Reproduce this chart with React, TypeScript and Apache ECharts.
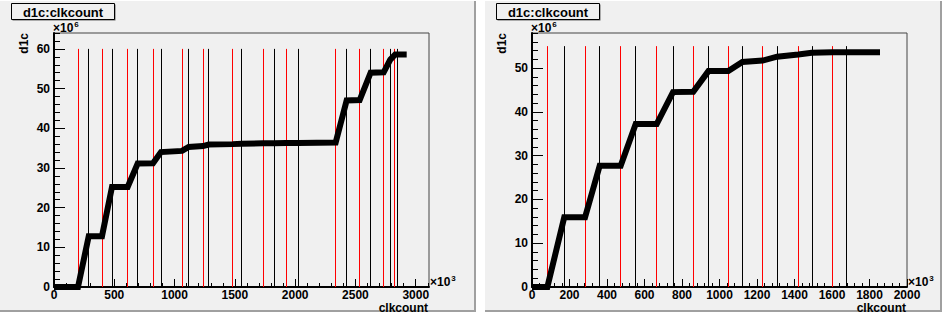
import { useEffect, useRef } from "react";
import * as echarts from "echarts";

const FONT = "'Liberation Sans', Arial, Helvetica, sans-serif";

// ---------- left pad (x in 10^3 clkcount, y in 10^6) ----------
const leftCurveX = [0, 199, 288, 398, 481, 611, 694, 821, 887, 1062, 1117, 1236, 1283, 1482, 1557, 1733, 1824, 1922, 2026, 2336, 2427, 2535, 2626, 2734, 2789, 2830, 2925];
const leftCurveY = [0, 0, 12.8, 12.8, 25.2, 25.2, 31.1, 31.2, 34.0, 34.3, 35.3, 35.5, 35.9, 36.0, 36.1, 36.2, 36.2, 36.3, 36.3, 36.4, 47.0, 47.1, 54.0, 54.1, 57.3, 58.6, 58.6];
const leftRedLines = [199, 398, 611, 821, 1062, 1236, 1482, 1733, 1922, 2336, 2535, 2734, 2822];
const leftBlackLines = [288, 481, 694, 887, 1117, 1283, 1557, 1824, 2026, 2427, 2626, 2789, 2847];
const leftLineTop = 60;
const leftXMajor = [0, 500, 1000, 1500, 2000, 2500, 3000];
const leftYMajor = [0, 10, 20, 30, 40, 50, 60];
const leftXMax = 3110;
const leftYMax = 64;

// ---------- right pad ----------
const rightCurveX = [0, 82, 172, 283, 361, 473, 553, 665, 752, 860, 941, 1047, 1122, 1230, 1307, 1420, 1492, 1602, 1676, 1856];
const rightCurveY = [0, 0, 15.9, 15.9, 27.7, 27.7, 37.2, 37.2, 44.5, 44.6, 49.3, 49.3, 51.4, 51.7, 52.6, 53.1, 53.5, 53.6, 53.6, 53.6];
const rightRedLines = [82, 283, 473, 665, 860, 1047, 1230, 1420, 1602];
const rightBlackLines = [172, 361, 553, 752, 941, 1122, 1307, 1492, 1676];
const rightLineTop = 55;
const rightXMajor = [0, 200, 400, 600, 800, 1000, 1200, 1400, 1600, 1800, 2000];
const rightYMajor = [0, 10, 20, 30, 40, 50];
const rightXMax = 2000;
const rightYMax = 58;

const leftXMinorStep = 100;
const rightXMinorStep = 40;
const yMinorStep = 2;

function minorTicks(max: number, step: number, majors: number[]) {
  const out: number[] = [];
  for (let i = 1; i * step <= max + 1e-9; i++) {
    const v = Math.round(i * step * 1000) / 1000;
    if (!majors.includes(v)) out.push(v);
  }
  return out;
}

const labelStyle = {
  color: "#000",
  fontFamily: FONT,
  fontWeight: "bold" as const,
  fontSize: 12,
  formatter: (v: number) => String(v),
};

function xAxes(grid: number, max: number, major: number[], minor: number[]) {
  return [
    {
      type: "value", gridIndex: grid, min: 0, max, position: "bottom",
      axisLine: { show: true, onZero: false, lineStyle: { color: "#000", width: 2 } },
      axisTick: { show: true, inside: true, length: 8, customValues: major, lineStyle: { color: "#000", width: 1 } },
      axisLabel: { show: true, customValues: major, margin: 2, ...labelStyle },
      splitLine: { show: false },
    },
    {
      type: "value", gridIndex: grid, min: 0, max, position: "bottom",
      axisLine: { show: false, onZero: false },
      axisTick: { show: true, inside: true, length: 4, customValues: minor, lineStyle: { color: "#000", width: 1 } },
      axisLabel: { show: false },
      splitLine: { show: false },
    },
  ];
}

function yAxes(grid: number, max: number, major: number[], minor: number[]) {
  return [
    {
      type: "value", gridIndex: grid, min: 0, max, position: "left",
      axisLine: { show: true, onZero: false, lineStyle: { color: "#000", width: 2 } },
      axisTick: { show: true, inside: true, length: 11, customValues: major, lineStyle: { color: "#000", width: 1 } },
      axisLabel: { show: true, customValues: major, margin: 4, ...labelStyle },
      splitLine: { show: false },
    },
    {
      type: "value", gridIndex: grid, min: 0, max, position: "left",
      axisLine: { show: false, onZero: false },
      axisTick: { show: true, inside: true, length: 6, customValues: minor, lineStyle: { color: "#000", width: 1 } },
      axisLabel: { show: false },
      splitLine: { show: false },
    },
  ];
}

function markerSeries(axis: number, reds: number[], blacks: number[], top: number) {
  return {
    type: "lines", coordinateSystem: "cartesian2d", xAxisIndex: axis, yAxisIndex: axis,
    z: 1, silent: true, polyline: false,
    lineStyle: { width: 1, opacity: 1 },
    effect: { show: false },
    data: [
      ...reds.map((x) => ({ coords: [[x, 0], [x, top]], lineStyle: { color: "#ff0000", width: 1 } })),
      ...blacks.map((x) => ({ coords: [[x, 0], [x, top]], lineStyle: { color: "#000000", width: 1 } })),
    ],
  };
}

function curveSeries(axis: number, xs: number[], ys: number[]) {
  return {
    type: "line", xAxisIndex: axis, yAxisIndex: axis, z: 3, silent: true,
    symbol: "none", showSymbol: false, clip: true,
    lineStyle: { color: "#000", width: 6, cap: "butt", join: "miter" },
    data: xs.map((x, i) => [x, ys[i]]),
  };
}

const bold = (size: number) => `bold ${size}px ${FONT}`;

function exponentText(x: number, y: number, exp: string) {
  return {
    type: "text", z: 8, silent: true, x, y,
    style: {
      text: `{a|×10}{b|${exp}}`,
      align: "left",
      verticalAlign: "middle",
      fill: "#000",
      rich: {
        a: { font: bold(12), fill: "#000", lineHeight: 16, verticalAlign: "middle" },
        b: { font: bold(8), fill: "#000", lineHeight: 8, verticalAlign: "top", padding: [0, 0, 0, 1] },
      },
    },
  };
}

function padGraphics(x0: number, x1: number, gridLeft: number, gridRight: number) {
  return [
    { type: "rect", z: -10, silent: true, shape: { x: x0, y: 1, width: x1 - x0, height: 311 }, style: { fill: "#f0f0f0" } },
    { type: "rect", z: -9, silent: true, shape: { x: x0, y: 310, width: x1 - x0, height: 2 }, style: { fill: "#a0a0a0" } },
    { type: "rect", z: -9, silent: true, shape: { x: x1 - 2, y: 1, width: 2, height: 311 }, style: { fill: "#a0a0a0" } },
    // title box with shadow
    { type: "rect", z: 5, silent: true, shape: { x: x0 + 12.5, y: 4.5, width: 103, height: 16 }, style: { fill: "#666" } },
    { type: "rect", z: 6, silent: true, shape: { x: x0 + 11.5, y: 3.5, width: 103, height: 16 }, style: { fill: "#f0f0f0", stroke: "#000", lineWidth: 1 } },
    { type: "text", z: 7, silent: true, x: x0 + 63, y: 12, style: { text: "d1c:clkcount", font: bold(13), fill: "#000", align: "center", verticalAlign: "middle" } },
    // exponents
    exponentText(gridLeft - 1, 28, "6"),
    exponentText(gridRight + 1, 282, "3"),
    // axis titles
    { type: "text", z: 7, silent: true, x: gridLeft - 30, y: 33, rotation: Math.PI / 2, style: { text: "d1c", font: bold(12), fill: "#000", align: "right", verticalAlign: "middle" } },
    { type: "text", z: 7, silent: true, x: gridRight - 1, y: 308, style: { text: "clkcount", font: bold(12), fill: "#000", align: "right", verticalAlign: "middle" } },
  ];
}

export default function App() {
  const ref = useRef<HTMLDivElement>(null);

  useEffect(() => {
    if (!ref.current) return;
    const chart = echarts.init(ref.current, undefined, { renderer: "svg" });
    const gridTop = 33;
    const gridH = 254;
    const gridW = 375;
    const leftGridX = 54;
    const rightGridX = 532;

    chart.setOption({
      animation: false,
      backgroundColor: "#ffffff",
      grid: [
        { left: leftGridX, top: gridTop, width: gridW, height: gridH, show: true, borderColor: "#444", borderWidth: 1, backgroundColor: "transparent", containLabel: false, outerBoundsMode: "none" },
        { left: rightGridX, top: gridTop, width: gridW, height: gridH, show: true, borderColor: "#444", borderWidth: 1, backgroundColor: "transparent", containLabel: false, outerBoundsMode: "none" },
      ],
      xAxis: [
        ...xAxes(0, leftXMax, leftXMajor, minorTicks(leftXMax, leftXMinorStep, leftXMajor)),
        ...xAxes(1, rightXMax, rightXMajor, minorTicks(rightXMax, rightXMinorStep, rightXMajor)),
      ],
      yAxis: [
        ...yAxes(0, leftYMax, leftYMajor, minorTicks(leftYMax, yMinorStep, leftYMajor)),
        ...yAxes(1, rightYMax, rightYMajor, minorTicks(rightYMax, yMinorStep, rightYMajor)),
      ],
      graphic: {
        elements: [
          ...padGraphics(0, 476, leftGridX, leftGridX + gridW),
          ...padGraphics(485, 942, rightGridX, rightGridX + gridW),
        ],
      },
      series: [
        markerSeries(0, leftRedLines, leftBlackLines, leftLineTop),
        curveSeries(0, leftCurveX, leftCurveY),
        markerSeries(2, rightRedLines, rightBlackLines, rightLineTop),
        curveSeries(2, rightCurveX, rightCurveY),
      ],
    });

    return () => chart.dispose();
  }, []);

  return (
    <div
      ref={ref}
      style={{ position: "absolute", left: 0, top: 0, width: 942, height: 320, background: "#fff" }}
    />
  );
}
